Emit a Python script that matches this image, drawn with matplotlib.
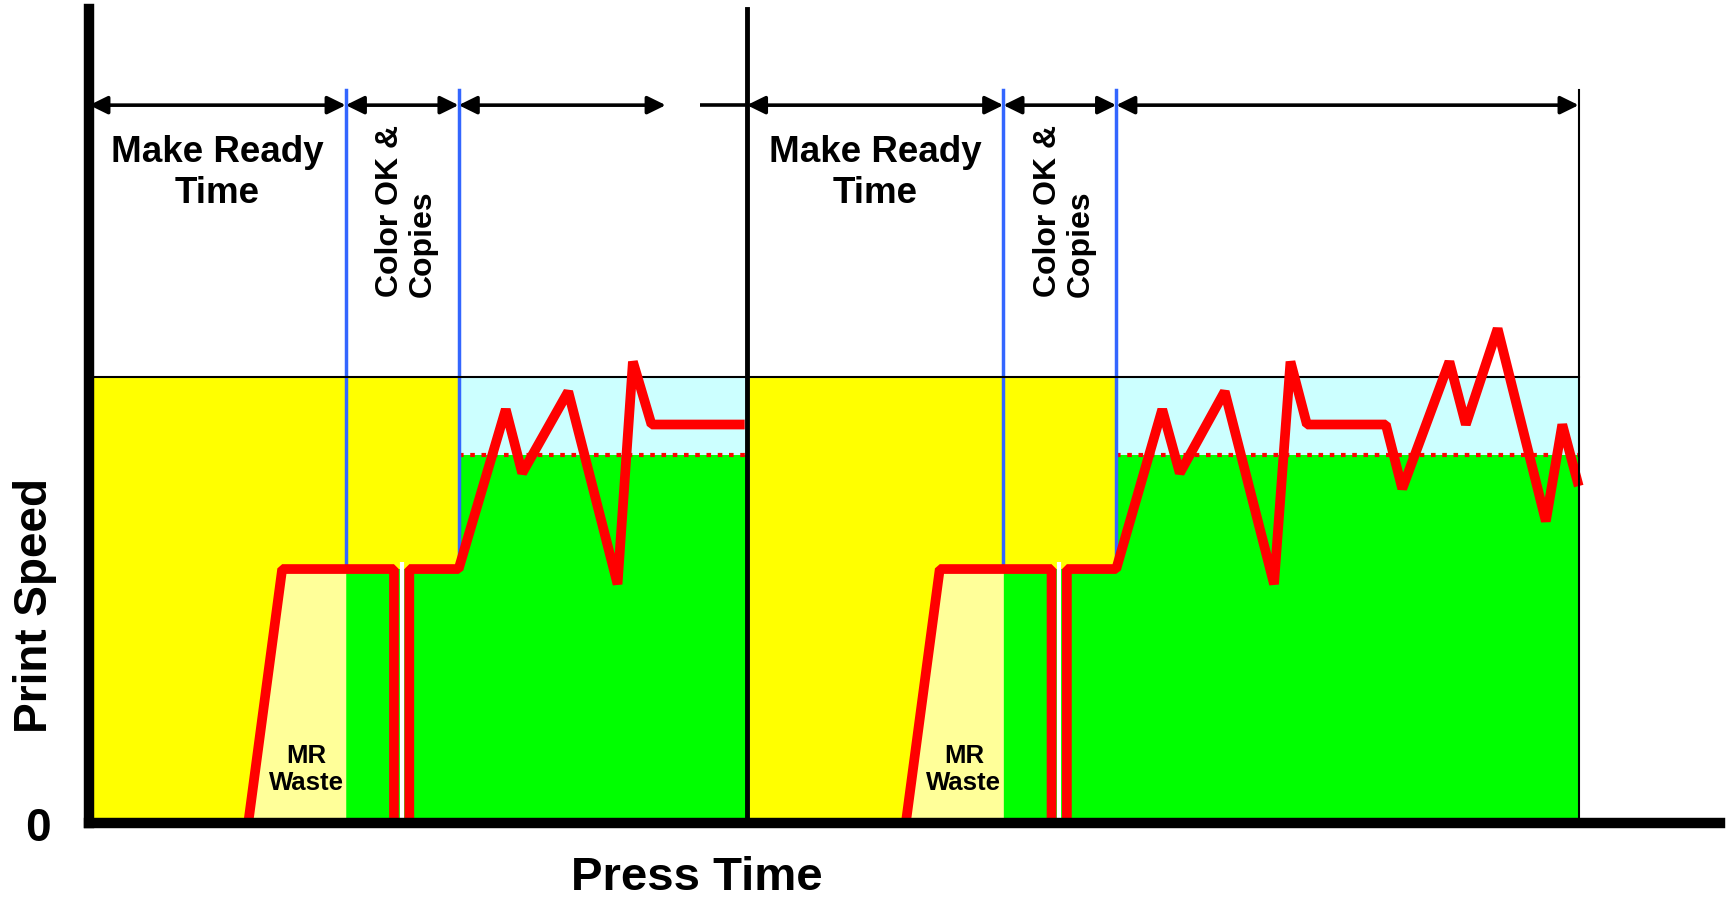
import matplotlib.pyplot as plt

plt.rcParams['font.family'] = ['Liberation Sans', 'DejaVu Sans']
plt.rcParams['font.weight'] = 'bold'
plt.rcParams['axes.labelweight'] = 'bold'

# press time (min) and speed (% of rated press speed)
job_start = [0, 60]
color_ok = [23.4, 83.4]
prod_start = [33.7, 93.7]
job_end = [60, 135.9]

rated_speed = 100
target_speed = 82.5
mr_speed = 57

job1_time = [14.5, 17.6, 27.8, 27.8, 29.2, 29.2, 33.7, 38.0, 39.5, 43.7,
             48.2, 49.6, 51.3, 59.8]
job1_speed = [0, 57, 57, 0, 0, 57, 57, 92.8, 78.5, 96.8,
              53.6, 103.5, 89.4, 89.4]
job2_time = [74.5, 77.6, 87.8, 87.8, 89.2, 89.2, 93.7, 97.9, 99.5, 103.6,
             108.1, 109.6, 111.1, 118.3, 119.8, 124.1, 125.6, 128.5, 132.9,
             134.4, 135.9]
job2_speed = [0, 57, 57, 0, 0, 57, 57, 92.8, 78.5, 96.8,
              53.6, 103.5, 89.4, 89.4, 75.0, 103.5, 89.4, 110.9, 67.7,
              89.4, 75.6]

# short press stop inside each make ready
stop_time = [28.5, 88.5]

jobs = [(job1_time, job1_speed), (job2_time, job2_speed)]

fig = plt.figure(figsize=(17.27, 8.98), dpi=100)
ax = fig.add_axes([0.0517, 0.0832, 0.9443, 0.907])
ax.set_xlim(0, 148.8)
ax.set_ylim(0, 182.6)

for i, (t, s) in enumerate(jobs):
    # phase backgrounds
    ax.fill_between([job_start[i], prod_start[i]], 0, rated_speed, color='#ffff00', lw=0, zorder=1)
    ax.fill_between([prod_start[i], job_end[i]], target_speed, rated_speed, color='#ccffff', lw=0, zorder=1)
    ax.fill_between([prod_start[i], job_end[i]], 0, target_speed, color='#00ff00', lw=0, zorder=1)
    ax.fill_between([color_ok[i], prod_start[i]], 0, mr_speed, color='#00ff00', lw=0, zorder=1)
    # make ready waste under the run-up
    ax.fill_between([t[0], t[1], color_ok[i]], 0, [s[0], s[1], s[1]], color='#ffff99', lw=0, zorder=1.1)

    ax.plot([prod_start[i], job_end[i]], [target_speed] * 2, color='red', lw=3,
            linestyle=(0, (1.1, 1.6)), zorder=1.5)
    for x in (color_ok[i], prod_start[i]):
        ax.plot([x, x], [mr_speed, 164.4], color='#3366ff', lw=2.5, zorder=1.6)

    ax.plot(t, s, color='red', lw=7, solid_joinstyle='bevel', solid_capstyle='butt', zorder=2)
    ax.plot([stop_time[i]] * 2, [0, 58.6], color='white', lw=3, solid_capstyle='butt', zorder=2.1)

    ax.text((job_start[i] + color_ok[i]) / 2, 145.7, 'Make Ready\nTime', fontsize=26.5,
            ha='center', va='center', linespacing=1.22, zorder=4)
    ax.text((color_ok[i] + prod_start[i]) / 2 + 0.4, 118, 'Color OK &\nCopies', fontsize=23,
            rotation=90, ha='center', va='bottom', multialignment='left', linespacing=1.12, zorder=4)
    ax.text((t[1] + color_ok[i]) / 2 - 0.7, 12.1, 'MR\nWaste', fontsize=18.5,
            ha='center', va='center', linespacing=1.15, zorder=4)

# rated speed line
ax.plot([0, job_end[1]], [rated_speed] * 2, color='black', lw=1.5, zorder=1.7)
ax.plot([job_end[1]] * 2, [0, 164.4], color='black', lw=1.5, zorder=3)
ax.plot([job_start[1]] * 2, [0, 182.6], color='black', lw=3.5, zorder=3, clip_on=False)

# phase duration arrows
spans = [(0, 23.4), (23.4, 33.7), (33.7, 52.6), (60, 83.4), (83.4, 93.7), (93.7, 135.9)]
for a, b in spans:
    ax.annotate('', xy=(b, 161), xytext=(a, 161),
                arrowprops=dict(arrowstyle='<|-|>,head_length=0.55,head_width=0.27',
                                mutation_scale=20, lw=2.6, color='black',
                                shrinkA=0, shrinkB=0), zorder=4)
ax.plot([55.7, 60], [161, 161], color='black', lw=2.6, solid_capstyle='butt', zorder=4)

for side in ('top', 'right'):
    ax.spines[side].set_visible(False)
for side in ('left', 'bottom'):
    ax.spines[side].set_linewidth(7.5)
    ax.spines[side].set_color('black')
    ax.spines[side].set_zorder(5)

ax.set_xticks([])
ax.set_yticks([])
# zero mark sits a little below the axis line
ax.text(-0.0236, -0.0074, '0', transform=ax.transAxes, fontsize=33,
        ha='right', va='center')

ax.set_ylabel('Print Speed', fontsize=33, fontweight='bold')
ax.yaxis.set_label_coords(-0.0196, 0.267)
ax.set_xlabel('Press Time', fontsize=34, fontweight='bold')
ax.xaxis.set_label_coords(0.3727, -0.040)

fig.savefig('out.png', dpi=100)
